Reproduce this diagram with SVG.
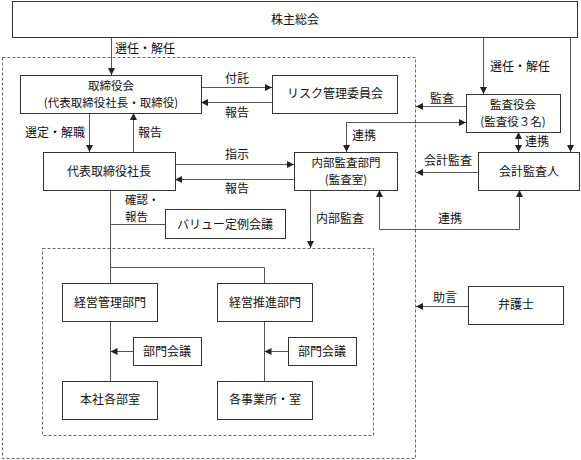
<svg xmlns="http://www.w3.org/2000/svg" width="581" height="460" viewBox="0 0 581 460">
<defs>
<style>
.box{fill:#fff;stroke:#333;stroke-width:1}
.ln{fill:none;stroke:#555;stroke-width:1}
.dash{fill:none;stroke:#666;stroke-width:1;stroke-dasharray:3,2}
text{font-family:"Noto Sans CJK JP","Noto Sans CJK SC",sans-serif;font-size:12px;fill:#111}
.c{text-anchor:middle}
.t2{font-size:11.5px}
</style>
<marker id="ah" markerUnits="userSpaceOnUse" markerWidth="8" markerHeight="8" refX="7" refY="3.5" orient="auto-start-reverse"><path d="M0,0 L7,3.5 L0,7 z" fill="#222"/></marker>
</defs>
<rect width="581" height="460" fill="#fff"/>
<rect class="dash" x="2.5" y="57.5" width="413" height="401"/>
<rect class="dash" x="42.5" y="248.5" width="331" height="187"/>
<g id="connectors">
<path class="ln" d="M111.5,37 V75" marker-end="url(#ah)"/>
<path class="ln" d="M201,87.5 H272" marker-end="url(#ah)"/>
<path class="ln" d="M272,102.5 H201" marker-end="url(#ah)"/>
<path class="ln" d="M89.5,113 V152" marker-end="url(#ah)"/>
<path class="ln" d="M133.5,152 V113" marker-end="url(#ah)"/>
<path class="ln" d="M175,164.5 H294" marker-end="url(#ah)"/>
<path class="ln" d="M294,179.5 H175" marker-end="url(#ah)"/>
<path class="ln" d="M346.5,152 V122.5 H466" marker-start="url(#ah)" marker-end="url(#ah)"/>
<path class="ln" d="M483.5,37 V94" marker-end="url(#ah)"/>
<path class="ln" d="M570.5,37 V152" marker-end="url(#ah)"/>
<path class="ln" d="M466,106.5 H416" marker-end="url(#ah)"/>
<path class="ln" d="M518.5,132 V152" marker-start="url(#ah)" marker-end="url(#ah)"/>
<path class="ln" d="M478,172.5 H416" marker-end="url(#ah)"/>
<path class="ln" d="M379.5,190 V229.5 H519.5 V190" marker-start="url(#ah)" marker-end="url(#ah)"/>
<path class="ln" d="M310.5,190 V248" marker-end="url(#ah)"/>
<path class="ln" d="M110.5,190 V283"/>
<path class="ln" d="M110.5,224.5 H165"/>
<path class="ln" d="M110.5,267.5 H264.5 V283"/>
<path class="ln" d="M110.5,322 V381"/>
<path class="ln" d="M264.5,322 V381"/>
<path class="ln" d="M133,351.5 H110.5" marker-end="url(#ah)"/>
<path class="ln" d="M288,351.5 H264.5" marker-end="url(#ah)"/>
<path class="ln" d="M468,306.5 H416" marker-end="url(#ah)"/>
</g>
<g id="labels">
<text x="115" y="53">選任・解任</text>
<text class="c" x="237" y="83">付託</text>
<text class="c" x="237" y="117">報告</text>
<text x="25" y="137">選定・解職</text>
<text x="138" y="137">報告</text>
<text class="c" x="237" y="159">指示</text>
<text class="c" x="237" y="193">報告</text>
<text class="t2" x="125" y="204">確認・<tspan x="125" dy="17">報告</tspan></text>
<text x="352" y="140">連携</text>
<text x="430" y="103">監査</text>
<text x="490" y="71">選任・解任</text>
<text x="525" y="146">連携</text>
<text x="424" y="165">会計監査</text>
<text x="316" y="223">内部監査</text>
<text x="438" y="223">連携</text>
<text x="433" y="302">助言</text>
</g>
<g id="n-shareholders"><rect class="box" x="12.5" y="1.5" width="565" height="36"/><text class="c" x="295" y="24">株主総会</text></g>
<g id="n-board"><rect class="box" x="20.5" y="75.5" width="181" height="38"/><text class="c t2" x="111" y="90">取締役会<tspan x="111" dy="17">(代表取締役社長・取締役)</tspan></text></g>
<g id="n-risk"><rect class="box" x="272.5" y="75.5" width="125" height="38"/><text class="c" x="335" y="98">リスク管理委員会</text></g>
<g id="n-president"><rect class="box" x="43.5" y="152.5" width="132" height="38"/><text class="c" x="109" y="176">代表取締役社長</text></g>
<g id="n-internal"><rect class="box" x="294.5" y="152.5" width="103" height="38"/><text class="c t2" x="346" y="167">内部監査部門<tspan x="346" dy="17">(監査室)</tspan></text></g>
<g id="n-auditors"><rect class="box" x="466.5" y="94.5" width="94" height="38"/><text class="c t2" x="513" y="109">監査役会<tspan x="513" dy="17">(監査役３名)</tspan></text></g>
<g id="n-accountant"><rect class="box" x="478.5" y="152.5" width="101" height="38"/><text class="c" x="529" y="176">会計監査人</text></g>
<g id="n-value"><rect class="box" x="165.5" y="209.5" width="120" height="29"/><text class="c" x="225" y="229">バリュー定例会議</text></g>
<g id="n-mgmt"><rect class="box" x="62.5" y="283.5" width="95" height="38"/><text class="c" x="110" y="307">経営管理部門</text></g>
<g id="n-promo"><rect class="box" x="217.5" y="283.5" width="95" height="38"/><text class="c" x="265" y="307">経営推進部門</text></g>
<g id="n-meet1"><rect class="box" x="133.5" y="337.5" width="68" height="28"/><text class="c" x="167" y="356">部門会議</text></g>
<g id="n-meet2"><rect class="box" x="288.5" y="337.5" width="68" height="28"/><text class="c" x="322" y="356">部門会議</text></g>
<g id="n-hq"><rect class="box" x="62.5" y="381.5" width="95" height="38"/><text class="c" x="110" y="404">本社各部室</text></g>
<g id="n-offices"><rect class="box" x="217.5" y="381.5" width="95" height="38"/><text class="c" x="265" y="404">各事業所・室</text></g>
<g id="n-lawyer"><rect class="box" x="468.5" y="286.5" width="95" height="38"/><text class="c" x="516" y="309">弁護士</text></g>
</svg>
